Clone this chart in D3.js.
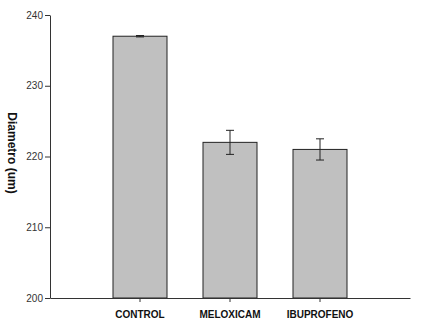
<!DOCTYPE html>
<html>
<head>
<meta charset="utf-8">
<script src="https://cdn.jsdelivr.net/npm/d3@7"></script>
<style>
  body { margin: 0; background: #fff; }
  svg text { font-family: "Liberation Sans", Arial, sans-serif; }
</style>
</head>
<body>
<div id="chart"></div>
<script>
// data
const groups = ["CONTROL", "MELOXICAM", "IBUPROFENO"];
const means = [237, 222, 221];
const errors = [0.1, 1.7, 1.5];
const yTicks = [200, 210, 220, 230, 240];

const width = 438, height = 325;
const margin = { top: 15, right: 28, bottom: 27, left: 50 };

const svg = d3.select("#chart").append("svg")
    .attr("width", width)
    .attr("height", height);

const x = d3.scaleBand()
    .domain(groups)
    .range([margin.left, width - margin.right])
    .paddingInner(0.4)
    .paddingOuter(0.7);

const y = d3.scaleLinear()
    .domain([200, 240])
    .range([height - margin.bottom, margin.top]);

// bars
svg.selectAll("rect.bar")
    .data(groups)
    .enter().append("rect")
    .attr("class", "bar")
    .attr("x", d => x(d))
    .attr("y", (d, i) => y(means[i]))
    .attr("width", x.bandwidth())
    .attr("height", (d, i) => y(200) - y(means[i]))
    .attr("fill", "#c0c0c0")
    .attr("stroke", "#222")
    .attr("stroke-width", 1);

// error bars
let eb = svg.selectAll("g.err")
    .data(groups)
    .enter().append("g")
    .attr("class", "err")
    .attr("stroke", "#222")
    .attr("stroke-width", 1);

eb.append("line")
    .attr("x1", d => x(d) + x.bandwidth() / 2)
    .attr("x2", d => x(d) + x.bandwidth() / 2)
    .attr("y1", (d, i) => y(means[i] + errors[i]))
    .attr("y2", (d, i) => y(means[i] - errors[i]));

eb.append("line")
    .attr("x1", d => x(d) + x.bandwidth() / 2 - 4)
    .attr("x2", d => x(d) + x.bandwidth() / 2 + 4)
    .attr("y1", (d, i) => y(means[i] + errors[i]))
    .attr("y2", (d, i) => y(means[i] + errors[i]));

eb.append("line")
    .attr("x1", d => x(d) + x.bandwidth() / 2 - 4)
    .attr("x2", d => x(d) + x.bandwidth() / 2 + 4)
    .attr("y1", (d, i) => y(means[i] - errors[i]))
    .attr("y2", (d, i) => y(means[i] - errors[i]));

// axes
let xAxis = svg.append("g")
    .attr("transform", "translate(0," + y(200) + ")")
    .call(d3.axisBottom(x).tickSize(4).tickSizeOuter(0));
xAxis.select(".domain").attr("stroke", "#333");
xAxis.selectAll(".tick line").attr("stroke", "#333");
xAxis.selectAll("text")
    .attr("dy", "1.25em")
    .attr("font-size", 10)
    .attr("font-weight", "bold")
    .attr("fill", "#111");

let yAxis = svg.append("g")
    .attr("transform", "translate(" + margin.left + ",0)")
    .call(d3.axisLeft(y).tickValues(yTicks).tickSize(5).tickSizeOuter(0));
yAxis.select(".domain").attr("stroke", "#333");
yAxis.selectAll(".tick line").attr("stroke", "#333");
yAxis.selectAll("text")
    .attr("x", -7)
    .attr("font-size", 10)
    .attr("fill", "#333");

svg.append("text")
    .attr("transform", "translate(8,153) rotate(90)")
    .attr("text-anchor", "middle")
    .attr("font-size", 12)
    .attr("font-weight", "bold")
    .attr("fill", "#111")
    .text("Diametro (um)");
</script>
</body>
</html>
